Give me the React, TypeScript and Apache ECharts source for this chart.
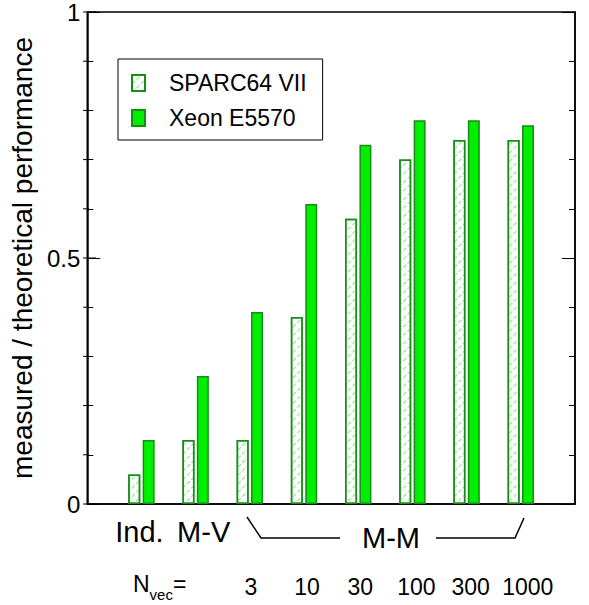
import React, { useEffect, useRef } from "react";
import * as echarts from "echarts";

const categories = ["", "Ind.", "M-V", "3", "10", "30", "100", "300", "1000", ""];
const kindLabels = ["", "Ind.", "M-V", "", "", "", "", "", "", ""];
const nvecLabels = ["", "", "", "3", "10", "30", "100", "300", "1000", ""];
const sparcValues = [null, 0.06, 0.13, 0.13, 0.38, 0.58, 0.70, 0.74, 0.74, null];
const xeonValues = [null, 0.13, 0.26, 0.39, 0.61, 0.73, 0.78, 0.78, 0.77, null];
const seriesNames = ["SPARC64 VII", "Xeon E5570"];
const yTickLabels = ["0", "0.5", "1"];
const yMinorStep = 0.1;
const yMajorStep = 0.5;

// small horizontal label nudges (px) per category, layout only
const kindShift = [0, -2, 8, 0, 0, 0, 0, 0, 0, 0];
const nvecShift = [0, 0, 0, 1, 3, 2, 4, 4, 7, 0];

const FONT = "Liberation Sans, Arial, Helvetica, sans-serif";
const GREEN = "#00ee00";
const BORDER = "#168e16";
const GRID_LEFT = 83;
const GRID_TOP = 11;
const GRID_BOTTOM = 101;
const PLOT_H = 605 - GRID_TOP - GRID_BOTTOM;

function richFor(shifts: number[], fontSize: number, lineHeight: number) {
  const rich: Record<string, any> = {};
  shifts.forEach((s, i) => {
    rich["s" + i] = {
      fontSize,
      lineHeight,
      fontFamily: FONT,
      color: "#000",
      padding: s >= 0 ? [0, 0, 0, 2 * s] : [0, -2 * s, 0, 0],
    };
  });
  return rich;
}

function yAxisBase(position: string) {
  return {
    type: "value",
    position,
    min: 0,
    max: 1,
    interval: yMajorStep,
    axisLine: { show: true, onZero: false, lineStyle: { color: "#000", width: 1.5 } },
    axisTick: { show: true, inside: true, length: 13, lineStyle: { color: "#000", width: 1 } },
    minorTick: { show: true, splitNumber: 5, length: 6, lineStyle: { color: "#000", width: 1 } },
    splitLine: { show: false },
    minorSplitLine: { show: false },
  };
}

export default function App() {
  const ref = useRef<HTMLDivElement>(null);
  useEffect(() => {
    if (!ref.current) return;
    const chart = echarts.init(ref.current, undefined, { renderer: "svg" });
    chart.setOption({
      animation: false,
      textStyle: { fontFamily: FONT },
      grid: {
        left: GRID_LEFT,
        right: 14,
        top: GRID_TOP,
        bottom: GRID_BOTTOM,
        show: true,
        borderColor: "#000",
        borderWidth: 1.5,
        backgroundColor: "rgba(0,0,0,0)",
      },
      legend: {
        left: 118,
        top: 59,
        orient: "vertical",
        itemWidth: 13,
        itemHeight: 16,
        itemGap: 11,
        padding: [12, 16, 10, 13],
        borderColor: "#000",
        borderWidth: 1,
        icon: "rect",
        data: seriesNames,
        textStyle: {
          fontSize: 23,
          lineHeight: 24,
          fontFamily: FONT,
          color: "#000",
          padding: [0, 0, 0, 19],
        },
      },
      xAxis: [
        {
          type: "category",
          data: categories,
          boundaryGap: false,
          axisLine: { show: true, lineStyle: { color: "#000", width: 1.5 } },
          axisTick: { show: false },
          splitLine: { show: false },
          axisLabel: {
            interval: 0,
            margin: 11,
            formatter: (_v: string, i: number) =>
              kindLabels[i] ? `{s${i}|${kindLabels[i]}}` : "",
            rich: richFor(kindShift, 29, 34),
          },
        },
        {
          type: "category",
          data: categories,
          boundaryGap: false,
          position: "bottom",
          axisLine: { show: false },
          axisTick: { show: false },
          splitLine: { show: false },
          axisLabel: {
            interval: 0,
            margin: 70,
            formatter: (_v: string, i: number) =>
              nvecLabels[i] ? `{s${i}|${nvecLabels[i]}}` : "",
            rich: richFor(nvecShift, 23, 26),
          },
        },
      ],
      yAxis: [
        {
          ...yAxisBase("left"),
          name: "measured / theoretical performance",
          nameLocation: "middle",
          nameGap: 42,
          nameTextStyle: { fontSize: 28, fontFamily: FONT, color: "#000" },
          axisLabel: {
            show: true,
            margin: 7,
            fontSize: 24,
            fontFamily: FONT,
            color: "#000",
            formatter: (v: number) => yTickLabels[Math.round(v / yMajorStep)],
          },
        },
        {
          ...yAxisBase("right"),
          axisLabel: { show: false },
        },
      ],
      series: [
        {
          name: seriesNames[0],
          type: "bar",
          xAxisIndex: 0,
          yAxisIndex: 0,
          data: sparcValues,
          barWidth: 12,
          barGap: "20%",
          itemStyle: {
            color: "#ffffff",
            borderColor: BORDER,
            borderWidth: 1.5,
            decal: {
              symbol: "rect",
              symbolSize: 1,
              rotation: -Math.PI / 4,
              dashArrayX: [[4, 2]],
              dashArrayY: [1, 5],
              color: "#7fe87f",
              backgroundColor: "#ffffff",
            },
          },
        },
        {
          name: seriesNames[1],
          type: "bar",
          xAxisIndex: 0,
          yAxisIndex: 0,
          data: xeonValues,
          barWidth: 12,
          barGap: "20%",
          itemStyle: { color: GREEN, borderColor: BORDER, borderWidth: 1.5 },
        },
      ],
    });

    // left-side inside ticks, placed through the y axis scale
    const tickEls: any[] = [];
    const nTicks = Math.round(1 / yMinorStep);
    const perMajor = Math.round(yMajorStep / yMinorStep);
    for (let k = 0; k <= nTicks; k++) {
      const v = k * yMinorStep;
      let y = Number(chart.convertToPixel({ yAxisIndex: 0 } as any, v));
      if (!Number.isFinite(y)) y = GRID_TOP + (1 - v) * PLOT_H;
      const major = k % perMajor === 0;
      tickEls.push({
        type: "line",
        z: 100,
        shape: { x1: GRID_LEFT, y1: y, x2: GRID_LEFT + (major ? 13 : 6), y2: y },
        style: { stroke: "#000", lineWidth: 1 },
      });
    }

    chart.setOption({
      graphic: [
        ...tickEls,
        {
          type: "polyline",
          shape: { points: [[247, 517], [261, 538], [340, 538]] },
          style: { stroke: "#000", lineWidth: 1.5, fill: null },
        },
        {
          type: "polyline",
          shape: { points: [[436, 538], [515, 538], [524, 518]] },
          style: { stroke: "#000", lineWidth: 1.5, fill: null },
        },
        {
          type: "text",
          x: 391,
          y: 538,
          style: {
            text: "M-M",
            fontSize: 29,
            fontFamily: FONT,
            fill: "#000",
            align: "center",
            verticalAlign: "middle",
          },
        },
        {
          type: "text",
          x: 133,
          y: 572,
          style: {
            text: "{n|N}{s|vec}{n|=}",
            fontFamily: FONT,
            fill: "#000",
            rich: {
              n: { fontSize: 23, lineHeight: 26, fontFamily: FONT, verticalAlign: "top" },
              s: {
                fontSize: 15,
                lineHeight: 16,
                fontFamily: FONT,
                padding: [15, 0, 0, 0],
                verticalAlign: "top",
              },
            },
          },
        },
      ],
    });
    return () => chart.dispose();
  }, []);
  return (
    <div
      ref={ref}
      style={{ position: "absolute", left: 0, top: 0, width: 589, height: 605 }}
    />
  );
}
